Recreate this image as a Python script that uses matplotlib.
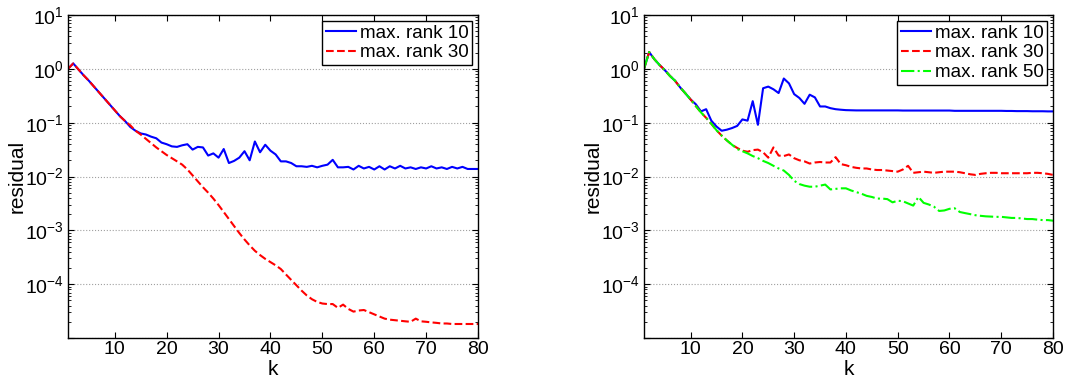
import matplotlib
matplotlib.use("Agg")
import matplotlib.pyplot as plt
from matplotlib.ticker import LogLocator, NullFormatter

plt.rcParams['font.family'] = ['Liberation Sans', 'DejaVu Sans']
plt.rcParams['mathtext.fontset'] = 'custom'
plt.rcParams['mathtext.rm'] = 'Liberation Sans'
plt.rcParams['mathtext.it'] = 'Liberation Sans'

k = list(range(1, 81))

left_rank10 = [
    1.0, 1.26, 0.977, 0.759, 0.603, 0.468, 0.363, 0.282, 0.219, 0.170,
    0.132, 0.107, 0.0832, 0.0708, 0.0631, 0.0603, 0.0550, 0.0513, 0.0427, 0.0398,
    0.0363, 0.0355, 0.0380, 0.0398, 0.0316, 0.0355, 0.0347, 0.0245, 0.0269, 0.0224,
    0.0324, 0.0178, 0.0195, 0.0224, 0.0295, 0.0200, 0.0447, 0.0282, 0.0389, 0.0302,
    0.0257, 0.0191, 0.0191, 0.0178, 0.0155, 0.0155, 0.0151, 0.0158, 0.0148, 0.0158,
    0.0166, 0.0204, 0.0148, 0.0148, 0.0151, 0.0135, 0.0158, 0.0141, 0.0151, 0.0135,
    0.0155, 0.0135, 0.0155, 0.0141, 0.0158, 0.0141, 0.0148, 0.0138, 0.0148, 0.0141,
    0.0155, 0.0141, 0.0148, 0.0138, 0.0151, 0.0141, 0.0151, 0.0138, 0.0138, 0.0138,
]

left_rank30 = [
    1.0, 1.26, 0.977, 0.759, 0.603, 0.468, 0.363, 0.282, 0.219, 0.170,
    0.132, 0.107, 0.0891, 0.0708, 0.0603, 0.0501, 0.0417, 0.0347, 0.0295, 0.0251,
    0.0219, 0.0191, 0.0166, 0.0135, 0.0105, 0.00813, 0.00631, 0.00501, 0.00389, 0.00295,
    0.00219, 0.00162, 0.00120, 8.91e-4, 6.76e-4, 5.25e-4, 4.17e-4, 3.47e-4, 2.95e-4, 2.57e-4,
    2.24e-4, 1.91e-4, 1.51e-4, 1.20e-4, 9.55e-5, 7.59e-5, 6.17e-5, 5.25e-5, 4.68e-5, 4.37e-5,
    4.27e-5, 4.27e-5, 3.63e-5, 4.17e-5, 3.47e-5, 3.09e-5, 3.24e-5, 3.31e-5, 3.02e-5, 2.75e-5,
    2.51e-5, 2.29e-5, 2.19e-5, 2.14e-5, 2.09e-5, 2.04e-5, 2.00e-5, 2.29e-5, 2.04e-5, 2.00e-5,
    1.95e-5, 1.91e-5, 1.86e-5, 1.86e-5, 1.82e-5, 1.82e-5, 1.82e-5, 1.82e-5, 1.82e-5, 1.82e-5,
]

right_rank10 = [
    1.0, 2.05, 1.51, 1.18, 0.95, 0.74, 0.60, 0.45, 0.35, 0.27,
    0.22, 0.162, 0.178, 0.109, 0.0848, 0.0708, 0.0741, 0.0794, 0.0871, 0.115,
    0.109, 0.251, 0.0912, 0.436, 0.468, 0.417, 0.355, 0.661, 0.537, 0.339,
    0.288, 0.224, 0.331, 0.295, 0.200, 0.200, 0.186, 0.178, 0.174, 0.171,
    0.170, 0.169, 0.169, 0.169, 0.169, 0.169, 0.169, 0.169, 0.169, 0.169,
    0.168, 0.168, 0.168, 0.168, 0.168, 0.168, 0.168, 0.168, 0.168, 0.168,
    0.166, 0.166, 0.166, 0.166, 0.166, 0.166, 0.166, 0.166, 0.166, 0.166,
    0.165, 0.165, 0.164, 0.164, 0.164, 0.163, 0.163, 0.163, 0.162, 0.162,
]

right_rank30 = [
    1.0, 2.05, 1.51, 1.18, 0.95, 0.74, 0.60, 0.45, 0.35, 0.27,
    0.204, 0.155, 0.123, 0.0955, 0.0724, 0.0575, 0.0468, 0.0389, 0.0339, 0.0302,
    0.0288, 0.0309, 0.0316, 0.0282, 0.0224, 0.0347, 0.0245, 0.0240, 0.0257, 0.0219,
    0.0200, 0.0191, 0.0174, 0.0182, 0.0186, 0.0182, 0.0182, 0.0229, 0.0170, 0.0162,
    0.0151, 0.0145, 0.0141, 0.0141, 0.0135, 0.0132, 0.0132, 0.0129, 0.0126, 0.0123,
    0.0135, 0.0158, 0.0117, 0.0120, 0.0123, 0.0120, 0.0117, 0.0120, 0.0123, 0.0123,
    0.0123, 0.0120, 0.0115, 0.0110, 0.0107, 0.0112, 0.0115, 0.0117, 0.0117, 0.0115,
    0.0115, 0.0115, 0.0115, 0.0115, 0.0115, 0.0117, 0.0117, 0.0115, 0.0112, 0.0107,
]

right_rank50 = [
    1.0, 2.05, 1.51, 1.18, 0.95, 0.74, 0.60, 0.45, 0.35, 0.27,
    0.204, 0.155, 0.123, 0.0955, 0.0724, 0.0575, 0.0468, 0.0389, 0.0324, 0.0295,
    0.0269, 0.0240, 0.0219, 0.0195, 0.0178, 0.0158, 0.0141, 0.0129, 0.0107, 0.00832,
    0.00724, 0.00676, 0.00646, 0.00646, 0.00676, 0.00708, 0.00575, 0.00589, 0.00603, 0.00603,
    0.00550, 0.00513, 0.00479, 0.00437, 0.00417, 0.00389, 0.00389, 0.00380, 0.00331, 0.00355,
    0.00347, 0.00316, 0.00288, 0.00417, 0.00324, 0.00302, 0.00275, 0.00229, 0.00234, 0.00251,
    0.00257, 0.00219, 0.00209, 0.00200, 0.00191, 0.00186, 0.00182, 0.00180, 0.00178, 0.00178,
    0.00174, 0.00170, 0.00170, 0.00166, 0.00162, 0.00162, 0.00158, 0.00155, 0.00155, 0.00151,
]

x_ticks = [10, 20, 30, 40, 50, 60, 70, 80]
y_ticks = [1e-5, 1e-4, 1e-3, 1e-2, 1e-1, 1e0, 1e1]
y_tick_labels = ['', r'$10^{-4}$', r'$10^{-3}$', r'$10^{-2}$', r'$10^{-1}$', r'$10^{0}$', r'$10^{1}$']

panels = [
    [(left_rank10, 'max. rank 10', (0, 0, 1), '-'),
     (left_rank30, 'max. rank 30', (1, 0, 0), '--')],
    [(right_rank10, 'max. rank 10', (0, 0, 1), '-'),
     (right_rank30, 'max. rank 30', (1, 0, 0), '--'),
     (right_rank50, 'max. rank 50', (0, 1, 0), '-.')],
]

fig = plt.figure(figsize=(10.68, 3.82), dpi=100)
axes_rects = [[0.0637, 0.1152, 0.3839, 0.8455],
              [0.6030, 0.1152, 0.3830, 0.8455]]

TICK_FS = 14
LABEL_FS = 15
LEG_FS = 13.5
for rect, series in zip(axes_rects, panels):
    ax = fig.add_axes(rect)
    for vals, lab, col, ls in series:
        ax.plot(k, vals, color=col, linestyle=ls, linewidth=1.5, label=lab)
    ax.set_yscale('log')
    ax.set_xlim(1, 80)
    ax.set_ylim(1e-5, 1e1)
    ax.set_xticks(x_ticks)
    ax.set_xticklabels([str(t) for t in x_ticks], fontsize=TICK_FS)
    ax.set_yticks(y_ticks)
    ax.set_yticklabels(y_tick_labels, fontsize=TICK_FS)
    ax.yaxis.set_minor_locator(LogLocator(base=10, subs=range(2, 10), numticks=20))
    ax.yaxis.set_minor_formatter(NullFormatter())
    ax.tick_params(which='both', direction='in', top=True, right=True)
    ax.tick_params(which='major', length=4, width=0.8)
    ax.tick_params(axis='x', which='major', pad=2)
    ax.tick_params(axis='y', which='major', pad=3)
    ax.tick_params(which='minor', length=2, width=0.6)
    ax.yaxis.grid(True, which='major', linestyle=':', color='#a0a0a0', linewidth=0.8)
    ax.set_axisbelow(True)
    for s in ax.spines.values():
        s.set_linewidth(1.0)
    ax.set_xlabel('k', fontsize=LABEL_FS)
    ax.xaxis.set_label_coords(0.5, -0.068)
    ax.set_ylabel('residual', fontsize=LABEL_FS)
    ax.yaxis.set_label_coords(-0.1, 0.5)
    leg = ax.legend(loc='upper right', fontsize=LEG_FS, frameon=True, fancybox=False,
                    edgecolor='black', framealpha=1, borderaxespad=0.3,
                    handlelength=1.6, handletextpad=0.2, labelspacing=0.15,
                    borderpad=0.2)
    leg.get_frame().set_linewidth(1.0)

fig.savefig('out.png', dpi=100)
